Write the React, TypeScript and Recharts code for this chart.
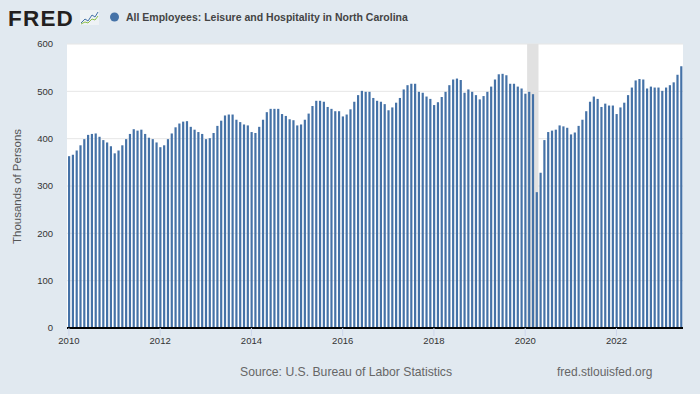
import React from 'react';
import { BarChart, Bar, XAxis, YAxis, CartesianGrid, ReferenceArea } from 'recharts';

const FONT = '"Liberation Sans", Arial, sans-serif';

const years = [2010, 2011, 2012, 2013, 2014, 2015, 2016, 2017, 2018, 2019, 2020, 2021, 2022, 2023];
const monthCodes = ['01', '02', '03', '04', '05', '06', '07', '08', '09', '10', '11', '12'];

const v2010 = [363, 366, 375, 386, 399, 408, 410, 411, 404, 397, 392, 384];
const v2011 = [369, 375, 386, 399, 410, 420, 417, 419, 410, 402, 399, 392];
const v2012 = [382, 386, 399, 411, 424, 432, 436, 437, 425, 419, 414, 410];
const v2013 = [399, 401, 412, 427, 438, 449, 451, 451, 440, 435, 430, 428];
const v2014 = [414, 412, 425, 440, 456, 463, 463, 463, 452, 448, 441, 439];
const v2015 = [428, 430, 440, 453, 469, 480, 480, 478, 467, 463, 458, 458];
const v2016 = [447, 451, 462, 478, 492, 501, 499, 499, 486, 480, 478, 473];
const v2017 = [460, 466, 476, 486, 504, 513, 516, 516, 499, 497, 489, 484];
const v2018 = [471, 477, 488, 499, 513, 525, 527, 524, 497, 504, 499, 492];
const v2019 = [483, 490, 499, 510, 525, 536, 537, 534, 516, 516, 510, 506];
const v2020 = [495, 499, 494, 287, 328, 397, 414, 417, 419, 428, 426, 423];
const v2021 = [409, 413, 427, 440, 458, 478, 489, 484, 467, 474, 470, 470];
const v2022 = [452, 466, 476, 492, 508, 523, 526, 525, 506, 510, 508, 508];
const v2023 = [501, 508, 513, 519, 535, 553];

const valuesByYear = [v2010, v2011, v2012, v2013, v2014, v2015, v2016, v2017, v2018, v2019, v2020, v2021, v2022, v2023];

const xTicks = ['2010-01', '2012-01', '2014-01', '2016-01', '2018-01', '2020-01', '2022-01'];
const yTicks = [0, 100, 200, 300, 400, 500, 600];
const recessionStart = '2020-02';
const recessionEnd = '2020-04';

const data = years.flatMap((y, i) =>
  valuesByYear[i].map((v, m) => ({ date: `${y}-${monthCodes[m]}`, value: v }))
);

export default function App() {
  return (
    <div
      style={{
        position: 'absolute',
        left: 0,
        top: 0,
        width: 700,
        height: 394,
        background: '#e1e9f0',
        fontFamily: FONT,
        overflow: 'hidden',
      }}
    >
      <BarChart
        width={700}
        height={394}
        data={data}
        margin={{ top: 44, right: 17, bottom: 36, left: 17 }}
      >
        <CartesianGrid fill="#ffffff" vertical={false} stroke="#e6e6e6" />
        <ReferenceArea
          x1={recessionStart}
          x2={recessionEnd}
          fill="#e1e1e1"
          fillOpacity={1}
          stroke="none"
        />
        <XAxis
          dataKey="date"
          ticks={xTicks}
          interval={0}
          tickFormatter={(d: string) => d.slice(0, 4)}
          axisLine={{ stroke: '#000000', strokeWidth: 2 }}
          tickLine={{ stroke: '#ccd6eb' }}
          tickSize={8}
          tickMargin={1}
          height={30}
          tick={{ fontSize: 9.5, fill: '#333333', fontFamily: FONT }}
        />
        <YAxis
          width={50}
          domain={[0, 600]}
          ticks={yTicks}
          axisLine={false}
          tickLine={false}
          tickSize={0}
          tickMargin={14}
          tick={{ fontSize: 9.5, fill: '#333333', fontFamily: FONT }}
        />
        <Bar dataKey="value" fill="#4572a7" barSize={2.2} isAnimationActive={false} />
      </BarChart>
      <svg
        width={700}
        height={394}
        style={{ position: 'absolute', left: 0, top: 0, pointerEvents: 'none' }}
      >
        <text x={8} y={26} fontSize={22.5} fontWeight={900} fill="#231f20" fontFamily={FONT} letterSpacing={1.2}>
          FRED
        </text>
        <rect x={80} y={10} width={19} height={15} fill="#eef2f5" />
        <polyline points="81,23 85,19 88,21 92,15 95,17 98,12" fill="none" stroke="#4572a7" strokeWidth={1} />
        <polyline points="81,24 85,22 88,23 92,19 95,20 98,16" fill="none" stroke="#8cbf4a" strokeWidth={1} />
        <circle cx={114.5} cy={17} r={4.5} fill="#4572a7" />
        <text x={126} y={21} fontSize={10.5} fontWeight="bold" fill="#444444" fontFamily={FONT}>
          All Employees: Leisure and Hospitality in North Carolina
        </text>
        <text
          x={20.5}
          y={186.5}
          transform="rotate(-90 20.5 186.5)"
          textAnchor="middle"
          fontSize={11.5}
          fill="#555555"
          fontFamily={FONT}
        >
          Thousands of Persons
        </text>
        <text x={240} y={376} fontSize={12.2} fill="#666666" fontFamily={FONT}>
          Source: U.S. Bureau of Labor Statistics
        </text>
        <text x={557} y={376} fontSize={12} fill="#666666" fontFamily={FONT}>
          fred.stlouisfed.org
        </text>
      </svg>
    </div>
  );
}
